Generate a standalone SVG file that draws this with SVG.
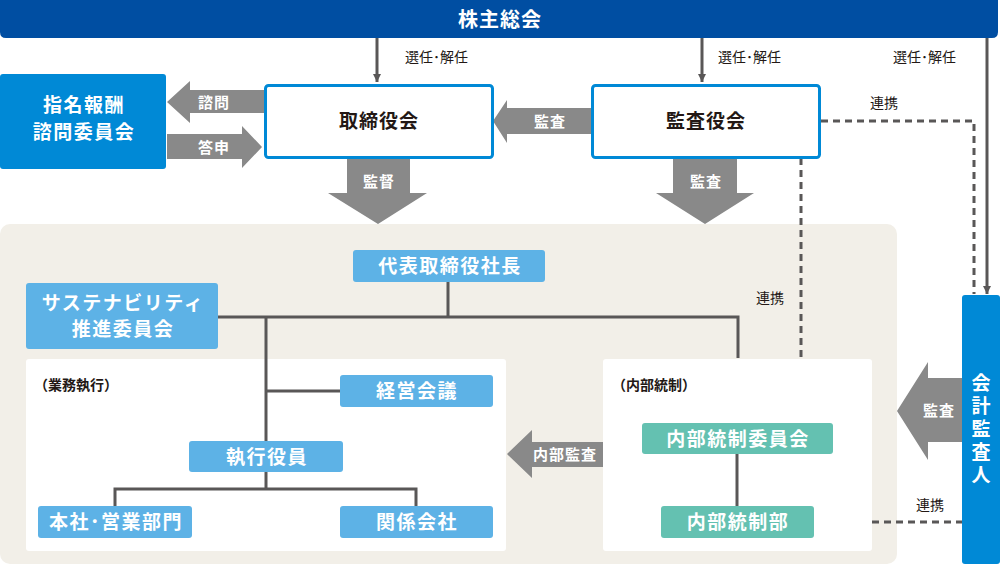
<svg xmlns="http://www.w3.org/2000/svg" width="1000" height="564" viewBox="0 0 1000 564">
<defs>
<style>
text{font-family:"Noto Sans CJK JP","Noto Sans",sans-serif;}
.w{fill:#fff;font-weight:bold;text-anchor:middle;}
.n{font-size:19px;letter-spacing:1.5px;}
.a{font-size:15px;letter-spacing:1px;}
.k{fill:#231815;font-size:14px;}
.b{fill:#231815;font-size:19px;font-weight:bold;text-anchor:middle;letter-spacing:1px;}
.lb{fill:#231815;font-size:14px;font-weight:bold;}
.ln{stroke:#595757;stroke-width:3;fill:none;}
.dash{stroke:#595757;stroke-width:3;fill:none;stroke-dasharray:7,5;}
.ga{fill:#898989;}
.lblue{fill:#5db2e6;}
.teal{fill:#64c1b1;}
</style>
<marker id="ah" markerWidth="8" markerHeight="8" viewBox="0 0 10 10" refX="10" refY="5" orient="auto" markerUnits="userSpaceOnUse">
<path d="M0,0 L10,5 L0,10 z" fill="#595757"/>
</marker>
</defs>

<rect x="0" y="224" width="897" height="340" rx="10" fill="#f2efe8"/>
<rect id="panel-gyomu" x="26" y="359" width="480" height="192" rx="3" fill="#fff"/>
<text class="lb" x="34" y="390">（業務執行）</text>
<rect id="panel-naibu" x="603" y="359" width="269" height="192" rx="3" fill="#fff"/>
<text class="lb" x="612" y="390">（内部統制）</text>

<g id="connectors">
<line class="ln" x1="377" y1="38" x2="377" y2="82" marker-end="url(#ah)" stroke-width="2.5"/>
<line class="ln" x1="702" y1="38" x2="702" y2="82" marker-end="url(#ah)" stroke-width="2.5"/>
<line class="ln" x1="987" y1="38" x2="987" y2="294" marker-end="url(#ah)" stroke-width="2.5"/>
<text class="k" x="405" y="62">選任･解任</text>
<text class="k" x="718" y="62">選任･解任</text>
<text class="k" x="893" y="62">選任･解任</text>

<polygon class="ga" points="264,90 190,90 190,81 167,102 190,123 190,113 264,113"/>
<text class="w a" x="214" y="108">諮問</text>
<polygon class="ga" points="167,134 242,134 242,126 262,147 242,168 242,159 167,159"/>
<text class="w a" x="214" y="153">答申</text>
<polygon class="ga" points="591,108 507,108 507,100 493,121 507,143 507,134 591,134"/>
<text class="w a" x="550" y="127">監査</text>
<polygon class="ga" points="347,158 410,158 410,193 427,193 378,224 328,193 347,193"/>
<text class="w a" x="379" y="187">監督</text>
<polygon class="ga" points="673,158 737,158 737,193 754,193 705,224 656,193 673,193"/>
<text class="w a" x="706" y="187">監査</text>

<polyline class="dash" points="821,121 974,121 974,294"/>
<text class="k" x="870" y="108">連携</text>
<line class="dash" x1="801" y1="158" x2="801" y2="358"/>
<text class="k" x="756" y="303">連携</text>
<line class="dash" x1="872" y1="522" x2="962" y2="522"/>
<text class="k" x="916" y="510">連携</text>

<polygon class="ga" points="962,378 928,378 928,362 897,411 928,460 928,442 962,442"/>
<text class="w a" x="939" y="416">監査</text>
<polygon class="ga" points="603,442 532,442 532,430 507,454 532,478 532,467 603,467"/>
<text class="w a" x="565" y="460">内部監査</text>

<line class="ln" x1="448" y1="282" x2="448" y2="317"/>
<polyline class="ln" points="218,317 738,317 738,358"/>
<line class="ln" x1="266" y1="317" x2="266" y2="441"/>
<line class="ln" x1="266" y1="391" x2="340" y2="391"/>
<line class="ln" x1="266" y1="472" x2="266" y2="489"/>
<polyline class="ln" points="115,506 115,489 416,489 416,506"/>
<line class="ln" x1="737" y1="454" x2="737" y2="506" stroke-width="2"/>
</g>

<g id="kabunushi">
<path d="M0,0 H998 V32 Q998,38 992,38 H6 Q0,38 0,32 Z" fill="#004ea2"/>
<text class="w" x="500" y="27" font-size="20" letter-spacing="1">株主総会</text>
</g>
<g id="shimei">
<rect x="0" y="74" width="166" height="95" rx="3" fill="#0089d6"/>
<text class="w n" x="84" y="112">指名報酬</text>
<text class="w n" x="84" y="139">諮問委員会</text>
</g>
<g id="torishimariyakukai">
<rect x="265.5" y="85.5" width="227" height="72" rx="3" fill="#fff" stroke="#0089d6" stroke-width="3"/>
<text class="b" x="379" y="128">取締役会</text>
</g>
<g id="kansayakukai">
<rect x="592.5" y="85.5" width="227" height="72" rx="3" fill="#fff" stroke="#0089d6" stroke-width="3"/>
<text class="b" x="706" y="128">監査役会</text>
</g>
<g id="kaikei">
<rect x="962" y="295" width="38" height="269" rx="3" fill="#0089d6"/>
<text x="981" y="373" fill="#fff" font-weight="bold" font-size="19" letter-spacing="4" writing-mode="vertical-rl">会計監査人</text>
</g>
<g id="daihyo">
<rect class="lblue" x="353" y="250" width="192" height="32" rx="3"/>
<text class="w n" x="450" y="273">代表取締役社長</text>
</g>
<g id="sustainability">
<rect class="lblue" x="26" y="283" width="192" height="66" rx="3"/>
<text class="w n" x="123" y="310">サステナビリティ</text>
<text class="w n" x="123" y="336">推進委員会</text>
</g>
<g id="keiei">
<rect class="lblue" x="340" y="375" width="153" height="32" rx="3"/>
<text class="w n" x="417" y="398">経営会議</text>
</g>
<g id="shikko">
<rect class="lblue" x="189" y="441" width="154" height="31" rx="3"/>
<text class="w n" x="267" y="464">執行役員</text>
</g>
<g id="honsha">
<rect class="lblue" x="38" y="506" width="154" height="32" rx="3"/>
<text class="w n" x="116" y="529">本社･営業部門</text>
</g>
<g id="kankei">
<rect class="lblue" x="340" y="506" width="153" height="32" rx="3"/>
<text class="w n" x="417" y="529">関係会社</text>
</g>
<g id="naibu-iinkai">
<rect class="teal" x="642" y="423" width="191" height="31" rx="3"/>
<text class="w n" x="738" y="446">内部統制委員会</text>
</g>
<g id="naibu-bu">
<rect class="teal" x="661" y="506" width="153" height="32" rx="3"/>
<text class="w n" x="738" y="529">内部統制部</text>
</g>
</svg>
